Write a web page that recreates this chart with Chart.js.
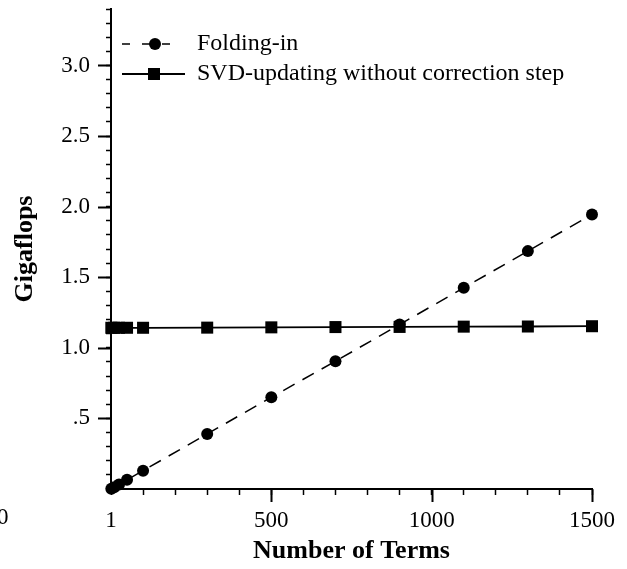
<!DOCTYPE html>
<html>
<head>
<meta charset="utf-8">
<title>Gigaflops</title>
<script src="https://cdn.jsdelivr.net/npm/chart.js@4/dist/chart.umd.min.js"></script>
<style>
  html, body { margin: 0; padding: 0; background: #fff; }
  canvas { display: block; }
</style>
</head>
<body>
<canvas id="graficoFlops" width="627" height="569"></canvas>
<script>
// numero de terminos agregados
var terminos = [1, 10, 25, 50, 100, 300, 500, 700, 900, 1100, 1300, 1500];
// gigaflops de cada metodo
var foldingIn = [0.002, 0.013, 0.032, 0.065, 0.13, 0.39, 0.65, 0.905, 1.165, 1.425, 1.685, 1.945];
var svdUpdating = [1.142, 1.142, 1.142, 1.142, 1.142, 1.143, 1.145, 1.147, 1.148, 1.150, 1.151, 1.153];
var etiquetas = ['Folding-in', 'SVD-updating without correction step'];
var fuente = 'Liberation Serif, Times New Roman, serif';

function puntos(valores){
    var datos = [];
    for (var i = 0; i < terminos.length; i++) {
        datos.push({x: terminos[i], y: valores[i]});
    }
    return datos;
}

// marcas largas en los valores principales de cada eje
var marcasLargas = {
    id: 'marcasLargas',
    afterDraw: function(chart){
        var ctx = chart.ctx;
        var x = chart.scales.x, y = chart.scales.y;
        ctx.save();
        ctx.strokeStyle = '#000';
        ctx.lineWidth = 2;
        ctx.beginPath();
        [0.5, 1.0, 1.5, 2.0, 2.5, 3.0].forEach(function(v){
            var py = Math.round(y.getPixelForValue(v)) + 0.5;
            ctx.moveTo(x.left - 13, py);
            ctx.lineTo(x.left, py);
        });
        [500, 1000, 1500].forEach(function(v){
            var px = Math.round(x.getPixelForValue(v)) + 0.5;
            ctx.moveTo(px, y.bottom);
            ctx.lineTo(px, y.bottom + 13);
        });
        ctx.stroke();
        // cero suelto a la izquierda
        ctx.fillStyle = '#000';
        ctx.font = '23px ' + fuente;
        ctx.textBaseline = 'middle';
        ctx.textAlign = 'left';
        ctx.fillText('0', -3, 518);
        ctx.restore();
    }
};

// leyenda dentro del area del grafico
var leyenda = {
    id: 'leyenda',
    afterDraw: function(chart){
        var ctx = chart.ctx;
        ctx.save();
        ctx.strokeStyle = '#000';
        ctx.fillStyle = '#000';
        // fila 1: linea discontinua con circulo
        ctx.lineWidth = 1.5;
        ctx.setLineDash([8, 12]);
        ctx.beginPath();
        ctx.moveTo(122, 44);
        ctx.lineTo(176, 44);
        ctx.stroke();
        ctx.setLineDash([]);
        ctx.beginPath();
        ctx.arc(155, 44, 6, 0, Math.PI * 2);
        ctx.fill();
        // fila 2: linea continua con cuadrado
        ctx.lineWidth = 1.8;
        ctx.beginPath();
        ctx.moveTo(122, 74);
        ctx.lineTo(185, 74);
        ctx.stroke();
        ctx.fillRect(148, 68, 12, 12);
        ctx.font = '24px ' + fuente;
        ctx.textBaseline = 'middle';
        ctx.textAlign = 'left';
        ctx.fillText(etiquetas[0], 197, 44);
        ctx.fillText(etiquetas[1], 197, 74);
        ctx.restore();
    }
};

// sin relleno extra por las etiquetas en los extremos
function sinRelleno(scale){
    scale.paddingTop = 0;
    scale.paddingBottom = 0;
    scale.paddingLeft = 0;
    scale.paddingRight = 0;
}

function crearGrafico(id){
    var ctx = document.getElementById(id);
    var myChart = new Chart(ctx, {
        type: 'line',
        data: {
            datasets: [{
                label: etiquetas[0],
                data: puntos(foldingIn),
                borderColor: '#000',
                backgroundColor: '#000',
                borderWidth: 1.5,
                borderDash: [13, 9],
                pointStyle: 'circle',
                pointRadius: 6,
                pointBorderWidth: 0,
                tension: 0,
                clip: false
            }, {
                label: etiquetas[1],
                data: puntos(svdUpdating),
                borderColor: '#000',
                backgroundColor: '#000',
                borderWidth: 1.8,
                pointStyle: 'rect',
                pointRadius: 8.5,
                pointBorderWidth: 0,
                tension: 0,
                clip: false
            }]
        },
        options: {
            responsive: false,
            animation: false,
            devicePixelRatio: 1,
            layout: { padding: { top: 9, right: 35, left: 0, bottom: 0 } },
            plugins: {
                legend: { display: false },
                tooltip: { enabled: false }
            },
            scales: {
                x: {
                    type: 'linear',
                    min: 0,
                    max: 1500,
                    afterFit: function(scale){ scale.height = 80; sinRelleno(scale); },
                    border: { display: true, color: '#000', width: 2 },
                    grid: { drawOnChartArea: false, drawTicks: true, tickLength: 6, tickColor: '#000', tickWidth: 1.5 },
                    ticks: {
                        stepSize: 100,
                        maxRotation: 0,
                        autoSkip: false,
                        padding: 12,
                        color: '#000',
                        font: { family: fuente, size: 23 },
                        callback: function(v){
                            if (v === 0) return '1';
                            if (v % 500 === 0) return String(v);
                            return '';
                        }
                    },
                    title: {
                        display: true,
                        text: 'Number of Terms',
                        color: '#000',
                        font: { family: fuente, size: 26, weight: 'bold' },
                        padding: { top: 0, bottom: 2 }
                    }
                },
                y: {
                    type: 'linear',
                    min: 0,
                    max: 3.4,
                    afterFit: function(scale){ scale.width = 111; sinRelleno(scale); },
                    border: { display: true, color: '#000', width: 2 },
                    grid: { drawOnChartArea: false, drawTicks: true, tickLength: 5, tickColor: '#000', tickWidth: 1.5 },
                    ticks: {
                        stepSize: 0.1,
                        autoSkip: false,
                        padding: 16,
                        color: '#000',
                        font: { family: fuente, size: 23 },
                        callback: function(v){
                            var d = v * 2;
                            if (v < 0.01 || Math.abs(d - Math.round(d)) > 1e-6) return '';
                            if (Math.abs(v - 0.5) < 1e-6) return '.5';
                            return v.toFixed(1);
                        }
                    },
                    title: {
                        display: true,
                        text: 'Gigaflops',
                        color: '#000',
                        font: { family: fuente, size: 26, weight: 'bold' },
                        padding: { top: 10, bottom: 0 }
                    }
                }
            }
        },
        plugins: [marcasLargas, leyenda]
    });
}
crearGrafico('graficoFlops');
</script>
</body>
</html>
